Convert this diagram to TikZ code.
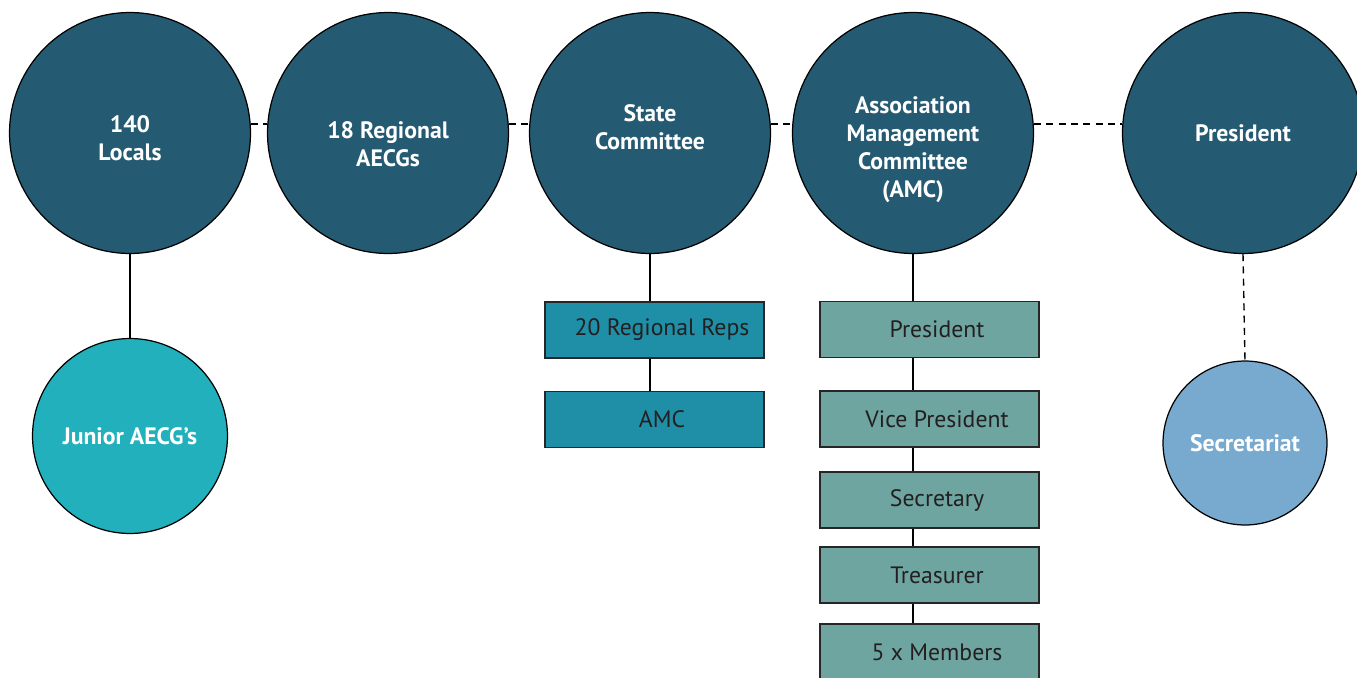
\documentclass[tikz,border=0pt]{standalone}
\usepackage{fontspec}
\setmainfont{PT Sans}
\usetikzlibrary{positioning}

\definecolor{bodyblue}{RGB}{37,91,114}
\definecolor{juniorcyan}{RGB}{34,177,188}
\definecolor{secblue}{RGB}{120,169,206}
\definecolor{repsteal}{RGB}{31,143,168}
\definecolor{amcgreen}{RGB}{110,165,160}
\definecolor{boxtext}{RGB}{35,31,32}

\tikzset{
  body/.style={circle, draw=black, line width=0.7pt, fill=bodyblue, text=white,
    inner sep=0pt, minimum size=4.82cm, align=center,
    font=\bfseries\fontsize{13.5}{16}\selectfont},
  bodytext/.style={text=white, align=center, inner sep=0pt,
    font=\bfseries\fontsize{13.5}{16}\selectfont},
  smallbody/.style={body, minimum size=3.9cm},
  post/.style={rectangle, draw=black!85, line width=0.7pt, text=boxtext,
    inner sep=0pt, minimum width=4.38cm, minimum height=1.12cm,
    font=\fontsize{13.5}{15}\selectfont, execute at begin node={\hspace*{0.3cm}}},
  link/.style={draw=black, line width=0.7pt},
  loose/.style={link, line width=0.8pt, dash pattern=on 4pt off 3pt}
}

\begin{document}
\begin{tikzpicture}[x=0.02cm, y=-0.02cm]

  \useasboundingbox (0,0) rectangle (1357,677);

  % --- top row ---
  \node[body, label={[bodytext, yshift=-0.1cm]center:{140\\Locals}}]
    (locals) at (130, 133) {};
  \node[body, label={[bodytext, yshift=-0.22cm]center:{18 Regional\\AECGs}}]
    (regional) at (388, 133) {};
  \node[body, label={[bodytext, yshift=0.12cm]center:{State\\Committee}}]
    (state) at (650, 133) {};
  \node[body, label={[bodytext, yshift=-0.33cm]center:{Association\\Management\\Committee\\(AMC)}}]
    (amc) at (913, 133) {};
  \node[body] (pres) at (1243, 133) {President};

  % --- sotto ---
  \node[smallbody, fill=juniorcyan] (junior) at (130, 436) {Junior AECG’s};
  \node[body, minimum size=3.28cm, fill=secblue] (secr) at (1245, 443) {Secretariat};

  % --- state committee ---
  \node[post, fill=repsteal] (reps)   at (654.5, 330)   {20 Regional Reps};
  \node[post, fill=repsteal] (amcrep) at (654.5, 419.5) {AMC};

  % --- AMC ---
  \node[post, fill=amcgreen] (amcpres) at (929.5, 329.5) {President};
  \node[post, fill=amcgreen] (amcvp)   at (929.5, 419)   {Vice President};
  \node[post, fill=amcgreen] (amcsec)  at (929.5, 500)   {Secretary};
  \node[post, fill=amcgreen] (amctre)  at (929.5, 575)   {Treasurer};
  \node[post, fill=amcgreen] (amcmem)  at (929.5, 652)   {5 x Members};

  % --- dashed row links ---
  \draw[loose] ([yshift=0.18cm]locals.east)   -- ([yshift=0.18cm]regional.west);
  \draw[loose] ([yshift=0.18cm]regional.east) -- ([yshift=0.18cm]state.west);
  \draw[loose] ([yshift=0.18cm]state.east)    -- ([yshift=0.18cm]amc.west);
  \draw[loose] ([yshift=0.18cm]amc.east)      -- ([yshift=0.18cm]pres.west);
  \draw[loose] (pres.south) -- (secr.north);

  % --- solid links ---
  \draw[link] (locals.south) -- (junior.north);
  \draw[link] (state.south) -- (state.south |- reps.north);
  \draw[link] (reps.south -| state.south) -- (amcrep.north -| state.south);
  \draw[link] (amc.south) -- (amc.south |- amcpres.north);
  \foreach \a/\b in {amcpres/amcvp, amcvp/amcsec, amcsec/amctre, amctre/amcmem}
    \draw[link] (\a.south -| amc.south) -- (\b.north -| amc.south);

\end{tikzpicture}
\end{document}
